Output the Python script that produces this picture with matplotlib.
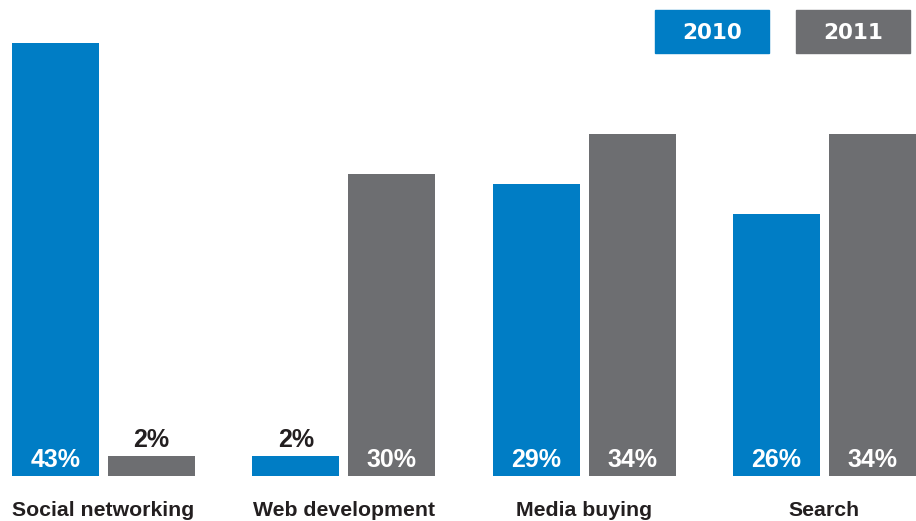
import matplotlib
matplotlib.use("Agg")
import matplotlib.pyplot as plt
from matplotlib.patches import Rectangle
import numpy as np

categories = ["Social networking", "Web development", "Media buying", "Search"]
years = ["2010", "2011"]
values_2010 = [43, 2, 29, 26]
values_2011 = [2, 30, 34, 34]

BLUE = "#007DC5"
GREY = "#6D6E71"
DARK = "#231F20"
FONT = "Liberation Sans"

W, H, DPI = 916, 521, 100
fig = plt.figure(figsize=(W / DPI, H / DPI), dpi=DPI)

# axes spans full width; bottom edge is the bars' baseline
bottom_px = 45
ax = fig.add_axes([0, bottom_px / H, 1, 1 - bottom_px / H])
px_per_unit = 10.07
ax.set_ylim(0, (H - bottom_px) / px_per_unit)
group_px = 240.3
ax.set_xlim(-0.2 - 55.5 / group_px, -0.2 - 55.5 / group_px + W / group_px)
ax.axis("off")

x = np.arange(len(categories))
bw = 87 / group_px
off = 48 / group_px
bars_a = ax.bar(x - off, values_2010, width=bw, color=BLUE)
bars_b = ax.bar(x + off, values_2011, width=bw, color=GREY)

for bars, vals in ((bars_a, values_2010), (bars_b, values_2011)):
    for b, v in zip(bars, vals):
        cx = b.get_x() + b.get_width() / 2
        if v >= 5:
            ax.annotate(f"{v}%", (cx, 0), xytext=(0, 6.5), textcoords="offset points",
                        ha="center", va="baseline", color="white",
                        fontsize=18, fontweight="bold", family=FONT)
        else:
            ax.annotate(f"{v}%", (cx, v), xytext=(0, 6.5), textcoords="offset points",
                        ha="center", va="baseline", color=DARK,
                        fontsize=18, fontweight="bold", family=FONT)

for xi, cat in zip(x, categories):
    ax.annotate(cat, (xi, 0), xytext=(0, -29), textcoords="offset points",
                ha="center", va="baseline", color=DARK,
                fontsize=15.3, fontweight="bold", family=FONT)

# legend boxes in the top-right corner (figure pixel coordinates)
legend_boxes = [(655, 769, BLUE), (796, 910, GREY)]
for (x0, x1, col), label in zip(legend_boxes, years):
    fig.patches.append(Rectangle((x0 / W, 1 - 53 / H), (x1 - x0) / W, 43 / H,
                                 transform=fig.transFigure, color=col))
    fig.text((x0 + x1) / 2 / W, 1 - 39 / H, label, ha="center", va="baseline",
             color="white", fontsize=15.5, fontweight="bold", family="DejaVu Sans")

fig.savefig("out.png", dpi=DPI)
